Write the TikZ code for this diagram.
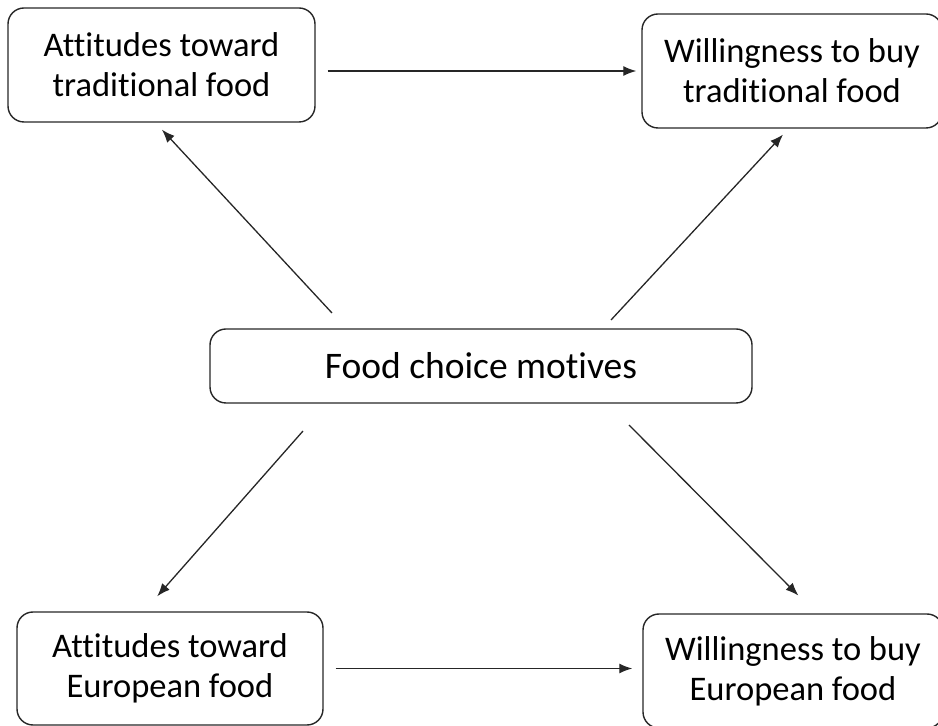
\documentclass[tikz,border=0pt]{standalone}
\usepackage{fontspec}
\setmainfont{Carlito}[Ligatures=NoCommon]
\usetikzlibrary{arrows.meta}
\tikzset{motivebox/.style={draw=black!85, line width=1.4pt, rounded corners=16pt, align=center, inner sep=0pt, font=\fontsize{34.5}{40}\selectfont}}
\tikzset{arr/.style={draw=black!85, line width=1.3pt, -{Latex[length=13pt,width=10pt]}}}

\begin{document}
\begin{tikzpicture}[x=1pt,y=1pt]
\useasboundingbox (0,0) rectangle (938,726);
% boxes
\node[motivebox, minimum width=307, minimum height=114] (atttrad) at (161.5,661) {Attitudes toward\\traditional food};
\node[motivebox, minimum width=300, minimum height=114] (willtrad) at (792,655) {Willingness to buy\\traditional food};
\node[motivebox, minimum width=542, minimum height=74, font=\fontsize{37.5}{44}\selectfont] (motives) at (481,360) {Food choice motives};
\node[motivebox, minimum width=306, minimum height=113] (atteuro) at (170,57.5) {Attitudes toward\\European food};
\node[motivebox, minimum width=300, minimum height=114] (willeuro) at (793,55) {Willingness to buy\\European food};
% free ends near the centre box
\coordinate (mtl) at (332,413);
\coordinate (mtr) at (611,406);
\coordinate (mbl) at (303,295);
\coordinate (mbr) at (629,301);
% arrows
\draw[arr, shorten <=12pt, shorten >=5pt] (atttrad.east |- willtrad.west) -- (willtrad.west);
\draw[arr, shorten >=9.5pt] (mtl) -- ([xshift=-6pt]atttrad.south);
\draw[arr, shorten >=8pt] (mtr) -- ([xshift=-3.5pt]willtrad.south);
\draw[arr, shorten >=20pt] (mbl) -- ([xshift=-26pt]atteuro.north);
\draw[arr, shorten >=25pt] (mbr) -- ([xshift=23pt]willeuro.north);
\draw[arr, shorten <=12pt, shorten >=10pt] (atteuro.east) -- (atteuro.east -| willeuro.west);
\end{tikzpicture}
\end{document}
